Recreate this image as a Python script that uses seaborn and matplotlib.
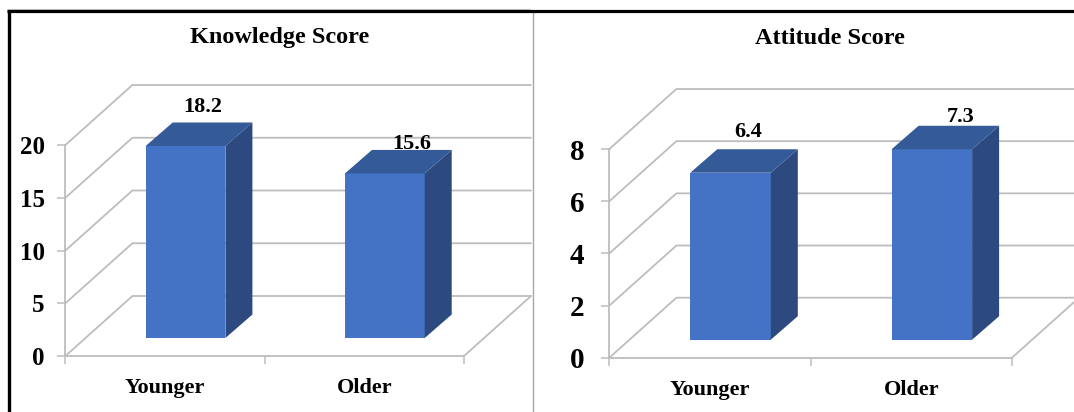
import matplotlib
matplotlib.use("Agg")
import matplotlib.pyplot as plt
import pandas as pd
import seaborn as sns
from matplotlib.lines import Line2D
from matplotlib.patches import Polygon
from matplotlib.transforms import Affine2D

categories = ["Younger", "Older"]
knowledge_values = [18.2, 15.6]
attitude_values = [6.4, 7.3]
knowledge_ticks = [0, 5, 10, 15, 20]
attitude_ticks = [0, 2, 4, 6, 8]

FRONT = "#4472C4"
SIDE = "#2C4A80"
TOP = "#345A98"
GRID = "#BDBDBD"

W, H = 1074, 412
sns.set_theme(style="white")
plt.rcParams["font.family"] = ["Liberation Serif", "DejaVu Serif"]
plt.rcParams["font.weight"] = "bold"

fig = plt.figure(figsize=(W / 100, H / 100), dpi=100, facecolor="white")


def panel(box, values, ticks, title, title_x, tick_size, tick_pad, label_offsets):
    left, right, y0, ytop = box
    ax = fig.add_axes([left / W, 1 - y0 / H, (right - left) / W, (y0 - ytop) / H])
    ax.patch.set_alpha(0)
    df = pd.DataFrame({"group": categories, "score": values})
    sns.barplot(data=df, x="group", y="score", color=FRONT, saturation=1,
                width=0.4, ax=ax, zorder=5)
    ax.set_xlim(-0.5, 1.5)
    ax.set_ylim(ticks[0], ticks[-1])
    ax.set_xlabel("")
    ax.set_ylabel("")

    for side in ("top", "right"):
        ax.spines[side].set_visible(False)
    for side in ("left", "bottom"):
        ax.spines[side].set_color(GRID)
        ax.spines[side].set_linewidth(1.3)

    ax.set_yticks(ticks)
    ax.set_xticks([0, 1])
    ax.set_xticks([-0.5, 0.5, 1.5], minor=True)
    ax.tick_params(axis="y", length=6, width=1.1, color=GRID, left=True, pad=tick_pad,
                   labelsize=tick_size, labelcolor="black")
    ax.tick_params(axis="x", which="major", length=0, pad=16, labelsize=16,
                   labelcolor="black")
    ax.tick_params(axis="x", which="minor", length=6, width=1.1, color=GRID, bottom=True)

    # Depth illusion: the walls and the bars are offset in display pixels
    wall_dx, wall_dy = 67, 60
    bar_dx, bar_dy = 20.5, 18
    face_dx, face_dy = 27, 23.5
    to_px = ax.transData.transform
    for t in ticks:
        x0, y = to_px((-0.5, t))
        x1 = to_px((1.5, t))[0]
        ax.add_line(Line2D([x0, x0 + wall_dx, x1 + wall_dx],
                           [y, y + wall_dy, y + wall_dy], transform=None,
                           color=GRID, lw=1.3, clip_on=False, zorder=1))
    x1, y = to_px((1.5, ticks[0]))
    ax.add_line(Line2D([x1, x1 + wall_dx], [y, y + wall_dy], transform=None,
                       color=GRID, lw=1.3, clip_on=False, zorder=1))

    shift = Affine2D().translate(bar_dx, bar_dy)
    for bar, value, (lx, ly) in zip(ax.patches, values, label_offsets):
        bar.set_transform(ax.transData + shift)
        bar.set_clip_on(False)
        bar.set_edgecolor("none")
        xa, yb = to_px((bar.get_x(), 0)) + (bar_dx, bar_dy)
        xb, yt = to_px((bar.get_x() + bar.get_width(), value)) + (bar_dx, bar_dy)
        ax.add_patch(Polygon([(xb, yb), (xb, yt), (xb + face_dx, yt + face_dy),
                              (xb + face_dx, yb + face_dy)], transform=None,
                             facecolor=SIDE, edgecolor="none", clip_on=False, zorder=5))
        ax.add_patch(Polygon([(xa, yt), (xb, yt), (xb + face_dx, yt + face_dy),
                              (xa + face_dx, yt + face_dy)], transform=None,
                             facecolor=TOP, edgecolor="none", clip_on=False, zorder=5))
        ax.annotate(f"{value}", xy=(bar.get_x() + bar.get_width() / 2, value),
                    xytext=(lx + bar_dx, ly + bar_dy), textcoords="offset pixels",
                    ha="center", va="center", fontsize=16, color="black",
                    annotation_clip=False, zorder=3)

    fig.text(title_x / W, 1 - 38 / H, title, ha="center", va="center",
             fontsize=17.5, color="black")
    return ax


panel((65.4, 464, 356, 145), knowledge_values, knowledge_ticks, "Knowledge Score", 280,
      18, 9, [(17, 39), (27, 29)])
panel((609.4, 1012, 357.7, 149), attitude_values, attitude_ticks, "Attitude Score", 830,
      21, 12, [(18, 41), (29, 32)])

# Outer frame and the divider between the two charts
def rule(x, y, color, lw):
    fig.add_artist(Line2D([p / W for p in x], [1 - p / H for p in y], color=color,
                          lw=lw, transform=fig.transFigure, solid_capstyle="butt"))


rule([7, 530], [9, 9], "#C8C8C8", 0.8)
rule([533, 533], [12, 412], "#A8A8A8", 1.0)
rule([7, 1074], [11, 11], "black", 2.3)
rule([8.7, 8.7], [10, 412], "black", 2.4)

fig.savefig("out.png", dpi=100, facecolor="white")
